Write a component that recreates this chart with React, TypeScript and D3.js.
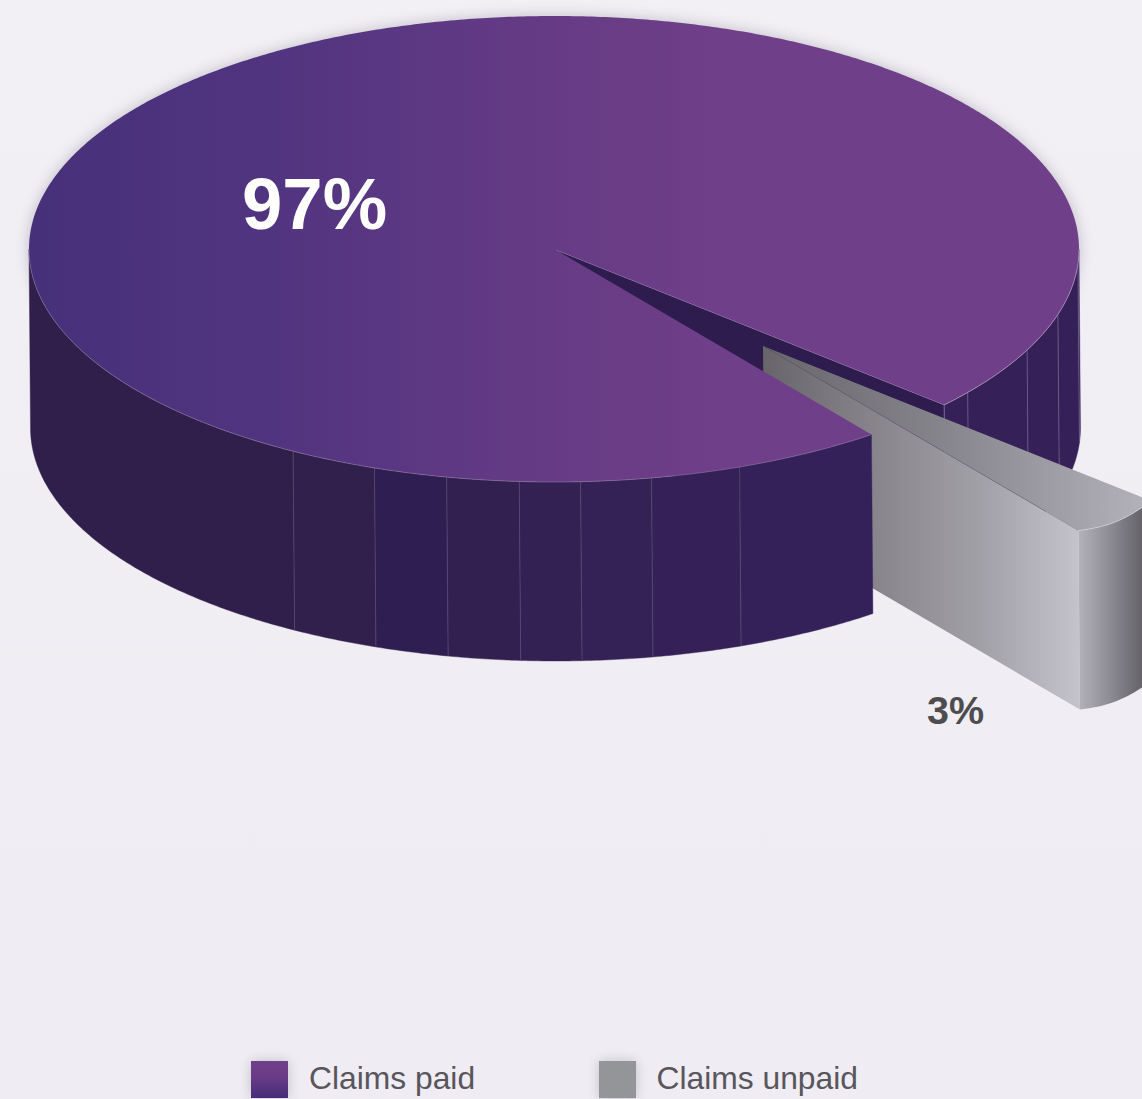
import React from "react";
import * as d3 from "d3";

const categories = ["Claims paid", "Claims unpaid"];
const shares = [97, 3];
const shareLabels = ["97%", "3%"];
// Parametric angles (degrees) of the facet seams on the cylinder wall.
const frontSeams = [119.8, 110, 101.8, 93.8, 87.1, 79.3, 69.3];
const backSeams = [38, 25.7, 16.3, 3.6];
const frontFacetFills = ["#301f4a", "#311f4c", "#2f1e52", "#322050", "#332153", "#342155", "#352158", "#352159"];

const W = 1142;
const H = 1099;
const cx = 554;
const cy = 249;
const rx = 525;
const ry = 233;
const depth = 179;
const floorShift = 1.5; // the lower rim sits slightly right of the upper rim
const explode = { x: 207, y: 96 };
const rimBulge = 5; // extra roundness on the short rim of the exploded wedge
const rad = Math.PI / 180;

const xScale = d3.scaleLinear().domain([-1, 1]).range([cx - rx, cx + rx]);
const yScale = d3.scaleLinear().domain([-1, 1]).range([cy - ry, cy + ry]);

type P = [number, number];
const rim = (t: number): P => [xScale(Math.cos(t)), yScale(Math.sin(t))];
const lineGen = d3.line<P>();
const rimPoints = (a: number, b: number): P[] => {
  const n = Math.max(2, Math.ceil(Math.abs(b - a) / (0.5 * rad)));
  return d3.range(n + 1).map((i) => rim(a + ((b - a) * i) / n));
};
// Closed band between an upper edge and the same edge dropped by the cylinder depth.
const bandPath = (top: P[]) => {
  const bottom = top.map(([x, y]) => [x + floorShift, y + depth] as P).reverse();
  return lineGen([...top, ...bottom]) + "Z";
};

// Pie angles run clockwise from 12 o'clock; the ellipse parameter starts at 3 o'clock.
const pie = d3.pie<number>().sort(null).startAngle(142.8 * rad).endAngle((142.8 + 360) * rad);
const [paidArc, unpaidArc] = pie(shares);
const toParam = (a: number) => a - Math.PI / 2;
const fullTurn = 2 * Math.PI;
const paidStart = toParam(paidArc.startAngle);
const paidEnd = toParam(paidArc.endAngle);
const notchA = paidEnd - fullTurn; // upper edge of the gap
const notchB = paidStart; // lower edge of the gap

const apex: P = [xScale(0) + 2, yScale(0) + 1];
const topPaid = lineGen([apex, ...rimPoints(paidStart, paidEnd)]) + "Z";
const notchCorner = rim(notchA);
const notchWall = bandPath([apex, notchCorner]);

const uApex: P = [apex[0] + explode.x, apex[1] + explode.y];
const uSpan = unpaidArc.endAngle - unpaidArc.startAngle;
const uStart = notchA;
const uEnd = notchA + uSpan;
const uRim: P[] = (() => {
  const pts = rimPoints(uStart, uEnd);
  return pts.map(([x, y], i) => [
    x + explode.x,
    y + explode.y + rimBulge * Math.sin((Math.PI * i) / (pts.length - 1)),
  ]);
})();
const uEndPt = uRim[uRim.length - 1];
const topUnpaid = lineGen([uApex, ...uRim]) + "Z";
const unpaidInner = bandPath([uApex, uEndPt]);
const unpaidOuter = bandPath(uRim);

const frontBounds = [Math.PI, ...frontSeams.map((d) => d * rad), notchB];
const backBounds = [notchA, ...backSeams.map((d) => d * rad), 0];

const Stops = ({ list }: { list: [number, string][] }) => (
  <>
    {list.map(([o, c]) => (
      <stop key={o} offset={o} stopColor={c} />
    ))}
  </>
);

const Seam = ({ t, stroke }: { t: number; stroke: string }) => {
  const p = rim(t);
  return (
    <line x1={p[0]} y1={p[1]} x2={p[0] + floorShift} y2={p[1] + depth} stroke={stroke} strokeWidth={0.7} />
  );
};

export default function App() {
  return (
    <svg
      width={W}
      height={H}
      viewBox={`0 0 ${W} ${H}`}
      style={{ position: "absolute", left: 0, top: 0, display: "block" }}
      fontFamily="'Liberation Sans', Arial, sans-serif"
    >
      <defs>
        <linearGradient id="page" x1="0" y1="0" x2="0" y2="1">
          <Stops list={[[0, "#f2f0f4"], [1, "#efecf3"]]} />
        </linearGradient>
        <linearGradient id="paidTop" gradientUnits="userSpaceOnUse" x1={cx - rx} y1="0" x2={cx + 170} y2="0">
          <Stops list={[[0, "#47307a"], [0.35, "#513480"], [0.7, "#643a84"], [1, "#703f89"]]} />
        </linearGradient>
        <linearGradient id="unpaidTop" gradientUnits="userSpaceOnUse" x1={uApex[0]} y1="0" x2={W} y2="0">
          <Stops list={[[0, "#68666b"], [0.45, "#85838a"], [1, "#b2b0b8"]]} />
        </linearGradient>
        <linearGradient id="unpaidInner" gradientUnits="userSpaceOnUse" x1={uApex[0]} y1="0" x2={uEndPt[0]} y2="0">
          <Stops list={[[0, "#67656a"], [0.35, "#87858b"], [0.7, "#a3a1a8"], [1, "#c4c2ca"]]} />
        </linearGradient>
        <linearGradient id="unpaidOuter" gradientUnits="userSpaceOnUse" x1={uEndPt[0]} y1="0" x2={W} y2="0">
          <Stops list={[[0, "#b4b2ba"], [0.5, "#8c8a92"], [1, "#66646a"]]} />
        </linearGradient>
        <linearGradient id="swatchPaid" x1="0" y1="0" x2="0" y2="1">
          <Stops list={[[0, "#703f89"], [0.45, "#693b86"], [1, "#452d78"]]} />
        </linearGradient>
        <filter id="soft" x="-10%" y="-10%" width="120%" height="120%">
          <feGaussianBlur stdDeviation="7" />
        </filter>
        <filter id="softSwatch" x="-50%" y="-50%" width="200%" height="200%">
          <feGaussianBlur stdDeviation="6" />
        </filter>
      </defs>

      <rect width={W} height={H} fill="url(#page)" />

      {/* soft halo round the disc */}
      <ellipse cx={cx} cy={cy} rx={rx + 1} ry={ry + 1} fill="#4a3a5c" opacity={0.26} filter="url(#soft)" />

      {/* walls behind the exploded wedge */}
      <path d={notchWall} fill="#2e1c4f" />
      {d3.pairs(backBounds).map(([a, b], i) => (
        <path key={i} d={bandPath(rimPoints(a, b))} fill="#352158" stroke="#352158" strokeWidth={0.4} />
      ))}
      <Seam t={notchA} stroke="#8f7fa5" />
      {backSeams.map((d) => (
        <Seam key={d} t={d * rad} stroke="#7a6b92" />
      ))}

      {/* exploded wedge */}
      <path d={unpaidInner} fill="url(#unpaidInner)" />
      <path d={unpaidOuter} fill="url(#unpaidOuter)" />
      <path d={topUnpaid} fill="url(#unpaidTop)" />
      <path d={lineGen([uApex, uEndPt]) ?? ""} stroke="#5f5d63" strokeOpacity={0.5} strokeWidth={0.7} fill="none" />
      <path d={lineGen(uRim) ?? ""} stroke="#d6d4da" strokeWidth={0.7} fill="none" />

      {/* front wall of the paid share */}
      {d3.pairs(frontBounds).map(([a, b], i) => (
        <path key={i} d={bandPath(rimPoints(a, b))} fill={frontFacetFills[i]} stroke={frontFacetFills[i]} strokeWidth={0.4} />
      ))}
      {frontSeams.map((d) => (
        <Seam key={d} t={d * rad} stroke="#5f5078" />
      ))}

      {/* top face with its pale rim highlight */}
      <path d={topPaid} fill="url(#paidTop)" />
      <path d={lineGen(rimPoints(notchA, 0)) ?? ""} stroke="#b39cc0" strokeWidth={0.8} fill="none" />
      <path d={lineGen(rimPoints(Math.PI, notchB)) ?? ""} stroke="#9f88b2" strokeOpacity={0.7} strokeWidth={0.7} fill="none" />
      <path d={lineGen([apex, notchCorner]) ?? ""} stroke="#a58ab5" strokeOpacity={0.6} strokeWidth={0.6} fill="none" />

      <text x={242} y={229} fontSize={72.5} fontWeight={700} fill="#ffffff">
        {shareLabels[0]}
      </text>
      <text x={927} y={724} fontSize={39.5} fontWeight={700} fill="#4d4d4f">
        {shareLabels[1]}
      </text>

      {/* legend */}
      <rect x={251} y={1061} width={37} height={37} fill="#5a5560" opacity={0.3} filter="url(#softSwatch)" />
      <rect x={599} y={1061} width={37} height={37} fill="#5a5560" opacity={0.3} filter="url(#softSwatch)" />
      <rect x={251} y={1061} width={37} height={37} fill="url(#swatchPaid)" />
      <rect x={599} y={1061} width={37} height={37} fill="#939598" />
      <text x={309} y={1089} fontSize={31.8} fill="#58565c">
        {categories[0]}
      </text>
      <text x={656.5} y={1089} fontSize={31.8} fill="#58565c">
        {categories[1]}
      </text>
    </svg>
  );
}
